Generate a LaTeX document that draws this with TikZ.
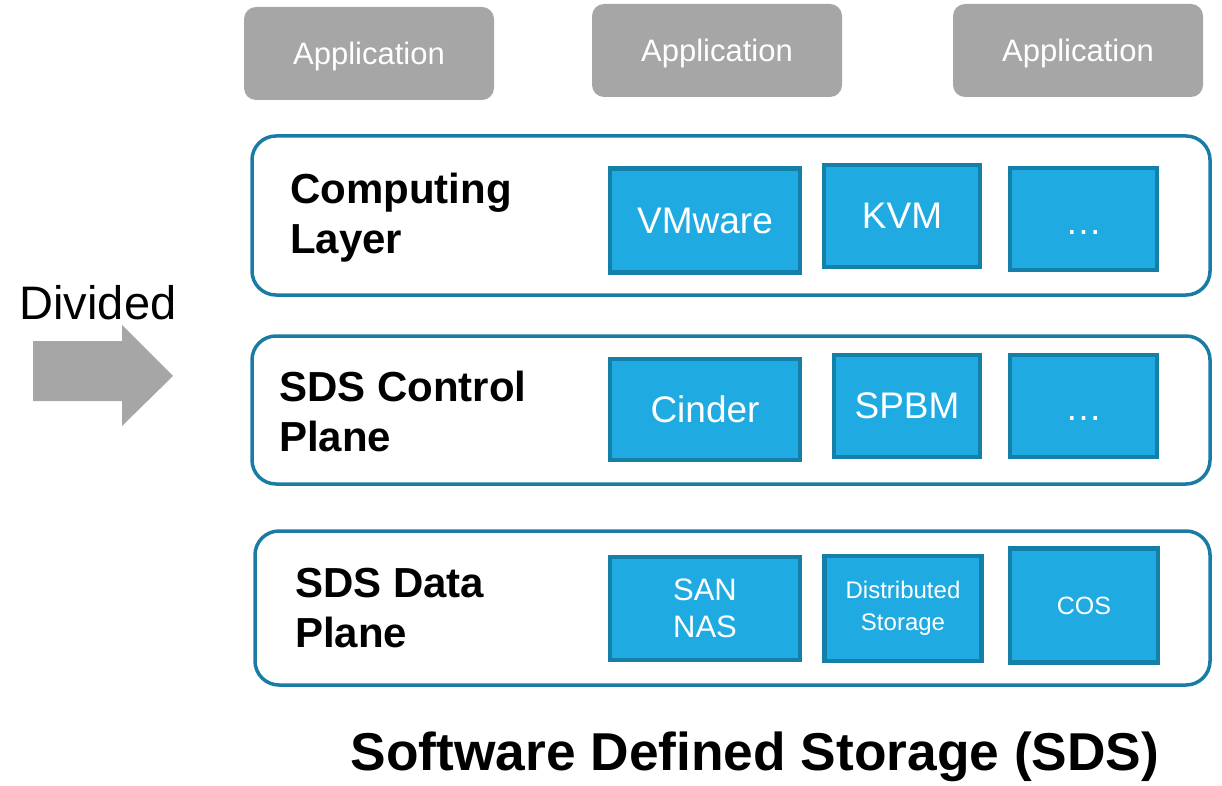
\documentclass[tikz,border=0pt]{standalone}
\usepackage{fontspec}
\setmainfont{Liberation Sans}
\definecolor{appgrey}{RGB}{166,166,166}
\definecolor{boxfill}{RGB}{31,171,226}
\definecolor{boxedge}{RGB}{20,128,170}
\definecolor{layeredge}{RGB}{26,124,164}
\begin{document}
\begin{tikzpicture}[x=1pt,y=-1pt,
  app/.style={fill=appgrey, rounded corners=12pt, minimum width=250pt, minimum height=93pt,
    text=white, font=\fontsize{31}{36}\selectfont, inner sep=0pt, text depth=0pt},
  layer/.style={draw=layeredge, line width=3.5pt, rounded corners=24pt},
  tech/.style={fill=boxfill, draw=boxedge, line width=4.5pt, text=white, align=center,
    inner sep=0pt, font=\fontsize{37}{44}\selectfont},
  dots/.style={text=white, inner sep=0pt, anchor=base, font=\fontsize{37}{44}\selectfont},
  layertitle/.style={anchor=west, align=left, font=\bfseries\fontsize{42}{50}\selectfont, inner sep=0pt},
]
\useasboundingbox (0,0) rectangle (1222,786);

% applications on top
\node[app] (app1) at (369,53.5) {Application};
\node[app] (app2) at (717,50.5) {Application};
\node[app] (app3) at (1078,50.5) {Application};

% layer frames
\draw[layer] (252,136) rectangle (1210,295);
\draw[layer] (252,336) rectangle (1210,484);
\draw[layer] (255,531) rectangle (1210,685);

% layer titles
\node[layertitle] (comp) at (290,218) {Computing\\Layer};
\node[layertitle] (ctrl) at (279,411) {SDS Control\\Plane};
\node[layertitle] (data) at (295,608) {SDS Data\\Plane};

% computing layer
\node[tech, minimum width=190pt, minimum height=104pt] (vmw) at (705,220.5) {VMware};
\node[tech, minimum width=156pt, minimum height=102pt] (kvm) at (902,216) {KVM};
\node[tech, minimum width=147pt, minimum height=102pt] (c3) at (1083.5,219) {};
\node[dots] (c3dots) at (1083.5,234) {…};

% control plane
\node[tech, minimum width=190pt, minimum height=101pt] (cinder) at (705,409.5) {Cinder};
\node[tech, minimum width=146pt, minimum height=102pt] (spbm) at (907,406) {SPBM};
\node[tech, minimum width=147pt, minimum height=102pt] (k3) at (1083.5,406) {};
\node[dots] (k3dots) at (1083.5,420) {…};

% data plane
\node[tech, minimum width=190pt, minimum height=103pt, font=\fontsize{31}{37}\selectfont] (sannas) at (705,608.5) {SAN\\NAS};
\node[tech, minimum width=157pt, minimum height=105pt, font=\fontsize{24}{32}\selectfont] (dist) at (903,608.5) {Distributed\\Storage};
\node[tech, minimum width=148pt, minimum height=114pt, font=\fontsize{25}{30}\selectfont] (cos) at (1084,605.5) {COS};

% divided arrow
\node[font=\fontsize{47}{54}\selectfont, inner sep=0pt] (div) at (98,303) {Divided};
\fill[appgrey] (33,341) -- (122,341) -- (122,325) -- (173,376) -- (122,426) -- (122,401) -- (33,401) -- cycle;

% caption
\node[font=\bfseries\fontsize{53.3}{60}\selectfont, inner sep=0pt] (title) at (755,757) {Software Defined Storage (SDS)};
\end{tikzpicture}
\end{document}
